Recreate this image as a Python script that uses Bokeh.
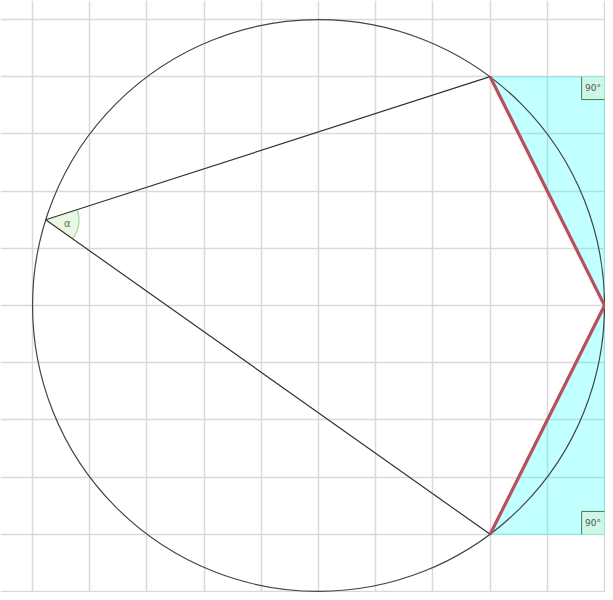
from bokeh.plotting import figure
from bokeh.models import Range1d, FixedTicker
from bokeh.core.properties import value
from bokeh.embed import file_html
from bokeh.resources import INLINE
import math

# geometry (grid units)
circle_center = (0.0, 0.0)
circle_radius = 5.0
pt_a = (3.0, 4.0)
pt_b = (5.0, 0.0)
pt_c = (3.0, -4.0)
pt_v = (-4.77, 1.5)
corner_top = (5.0, 4.0)
corner_bottom = (5.0, -4.0)
right_angle_corners = [corner_top, corner_bottom]
grid_ticks = list(range(-6, 7))

p = figure(width=605, height=592, output_backend="svg", toolbar_location=None,
           x_range=Range1d(-5.56, 5.017), y_range=Range1d(-5.017, 5.332),
           min_border=0, outline_line_color=None)
p.xaxis.visible = False
p.yaxis.visible = False
p.xgrid.ticker = FixedTicker(ticks=grid_ticks)
p.ygrid.ticker = FixedTicker(ticks=grid_ticks)
for g in (p.xgrid, p.ygrid):
    g.grid_line_color = "#d9d9d9"
    g.grid_line_width = 1.5
    g.grid_line_alpha = 1.0

# cyan triangles outside the red chords
p.patches(xs=[[pt_a[0], corner_top[0], pt_b[0]], [pt_c[0], corner_bottom[0], pt_b[0]]],
          ys=[[pt_a[1], corner_top[1], pt_b[1]], [pt_c[1], corner_bottom[1], pt_b[1]]],
          fill_color="#00ffff", fill_alpha=0.24, line_color="#66eeee", line_width=1, line_alpha=0.6)

# right angle markers
s = 0.4
for (cx, cy) in right_angle_corners:
    sy = -1 if cy > 0 else 1
    p.quad(left=[cx - s], right=[cx], bottom=[min(cy, cy + sy * s)], top=[max(cy, cy + sy * s)],
           fill_color="#d8f0d0", fill_alpha=0.5, line_color=None)
    p.line([cx - s, cx - s, cx], [cy, cy + sy * s, cy + sy * s], line_color="#4a7a4a", line_width=1)
    p.text(x=[cx - s / 2], y=[cy + sy * s / 2], text=["90°"], text_align="center",
           text_baseline="middle", text_font_size="9px", text_color="#555555",
           text_font=value("DejaVu Sans"))

# circle
p.circle(x=[circle_center[0]], y=[circle_center[1]], radius=circle_radius,
         fill_color=None, line_color="#444444", line_width=1.2)

# angle wedge at V
ang_a = math.atan2(pt_a[1] - pt_v[1], pt_a[0] - pt_v[0])
ang_c = math.atan2(pt_c[1] - pt_v[1], pt_c[0] - pt_v[0])
p.wedge(x=[pt_v[0]], y=[pt_v[1]], radius=0.58, start_angle=ang_c, end_angle=ang_a,
        fill_color="#e4f5dc", fill_alpha=0.8, line_color=None)
p.arc(x=[pt_v[0]], y=[pt_v[1]], radius=0.58, start_angle=ang_c, end_angle=ang_a,
      line_color="#a8d8a0", line_width=1.2)
bis = (ang_a + ang_c) / 2
p.text(x=[pt_v[0] + 0.38 * math.cos(bis)], y=[pt_v[1] + 0.38 * math.sin(bis)], text=["α"],
       text_align="center", text_baseline="middle", text_font_size="10px",
       text_color="#4a7a4a", text_font=value("DejaVu Sans"))

# black chords
p.line([pt_a[0], pt_v[0], pt_c[0]], [pt_a[1], pt_v[1], pt_c[1]], line_color="#333333", line_width=1.2)

# red chords
p.line([pt_a[0], pt_b[0], pt_c[0]], [pt_a[1], pt_b[1], pt_c[1]], line_color="#b8505c", line_width=3.2)

open("out.html", "w").write(file_html(p, INLINE))
